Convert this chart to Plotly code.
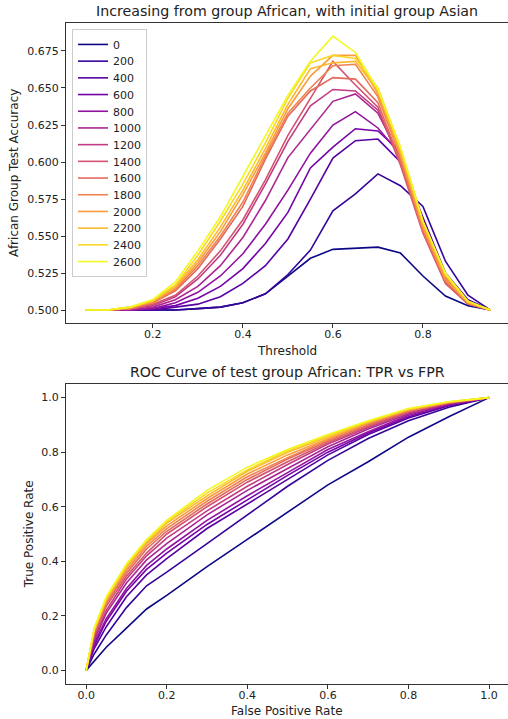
"""Accuracy-vs-threshold and ROC curves for group African, one line per step."""
import plotly.graph_objects as go
from plotly.colors import sample_colorscale

# ---- data -----------------------------------------------------------------
steps = [0, 200, 400, 600, 800, 1000, 1200, 1400, 1600, 1800, 2000, 2200, 2400, 2600]

thresholds = [0.05, 0.10, 0.15, 0.20, 0.25, 0.30, 0.35, 0.40, 0.45, 0.50,
              0.55, 0.60, 0.65, 0.70, 0.75, 0.80, 0.85, 0.90, 0.95]

acc_0 = [0.500, 0.500, 0.500, 0.500, 0.500, 0.501, 0.502, 0.505, 0.511, 0.523,
         0.535, 0.541, 0.542, 0.5425, 0.5385, 0.523, 0.5095, 0.503, 0.500]
acc_200 = [0.500, 0.500, 0.500, 0.500, 0.500, 0.501, 0.502, 0.505, 0.511, 0.524,
           0.5405, 0.567, 0.5785, 0.592, 0.584, 0.570, 0.533, 0.510, 0.500]
acc_400 = [0.500, 0.500, 0.500, 0.500, 0.502, 0.504, 0.509, 0.518, 0.530, 0.548,
           0.575, 0.6027, 0.6144, 0.6155, 0.600, 0.562, 0.525, 0.507, 0.500]
acc_600 = [0.500, 0.500, 0.500, 0.501, 0.503, 0.508, 0.516, 0.528, 0.545, 0.566,
           0.596, 0.610, 0.6225, 0.621, 0.607, 0.561, 0.523, 0.506, 0.500]
acc_800 = [0.500, 0.500, 0.500, 0.501, 0.505, 0.512, 0.523, 0.538, 0.558, 0.581,
           0.606, 0.625, 0.634, 0.623, 0.605, 0.559, 0.522, 0.505, 0.500]
acc_1000 = [0.500, 0.500, 0.500, 0.502, 0.507, 0.516, 0.530, 0.549, 0.574, 0.603,
            0.622, 0.641, 0.646, 0.633, 0.603, 0.557, 0.520, 0.505, 0.500]
acc_1200 = [0.500, 0.500, 0.501, 0.503, 0.509, 0.521, 0.537, 0.558, 0.585, 0.614,
            0.638, 0.649, 0.648, 0.635, 0.600, 0.554, 0.519, 0.504, 0.500]
acc_1400 = [0.500, 0.500, 0.501, 0.504, 0.510, 0.523, 0.540, 0.561, 0.588, 0.618,
            0.643, 0.668, 0.652, 0.637, 0.598, 0.552, 0.518, 0.504, 0.500]
acc_1600 = [0.500, 0.500, 0.501, 0.505, 0.513, 0.528, 0.548, 0.570, 0.602, 0.631,
            0.648, 0.657, 0.656, 0.640, 0.600, 0.553, 0.519, 0.504, 0.500]
acc_1800 = [0.500, 0.500, 0.501, 0.505, 0.514, 0.530, 0.550, 0.573, 0.604, 0.633,
            0.650, 0.665, 0.666, 0.644, 0.603, 0.555, 0.520, 0.505, 0.500]
acc_2000 = [0.500, 0.500, 0.502, 0.506, 0.515, 0.532, 0.553, 0.578, 0.606, 0.636,
            0.658, 0.672, 0.672, 0.646, 0.605, 0.556, 0.521, 0.505, 0.500]
acc_2200 = [0.500, 0.500, 0.502, 0.506, 0.516, 0.534, 0.556, 0.581, 0.609, 0.639,
            0.663, 0.667, 0.668, 0.648, 0.607, 0.558, 0.523, 0.505, 0.500]
acc_2400 = [0.500, 0.500, 0.502, 0.507, 0.517, 0.537, 0.560, 0.585, 0.613, 0.643,
            0.667, 0.672, 0.670, 0.650, 0.610, 0.560, 0.524, 0.506, 0.500]
acc_2600 = [0.500, 0.500, 0.502, 0.507, 0.519, 0.540, 0.563, 0.590, 0.617, 0.645,
            0.668, 0.685, 0.674, 0.649, 0.610, 0.560, 0.525, 0.506, 0.500]

fpr = [0.0, 0.02, 0.05, 0.10, 0.15, 0.20, 0.30, 0.40, 0.50, 0.60, 0.70, 0.80, 0.90, 1.0]

tpr_0 = [0.0, 0.035, 0.085, 0.155, 0.225, 0.275, 0.38, 0.48, 0.58, 0.68, 0.765, 0.855, 0.93, 1.0]
tpr_200 = [0.0, 0.06, 0.13, 0.23, 0.31, 0.36, 0.465, 0.57, 0.675, 0.77, 0.85, 0.915, 0.965, 1.0]
tpr_400 = [0.0, 0.08, 0.16, 0.27, 0.35, 0.41, 0.52, 0.61, 0.70, 0.79, 0.865, 0.925, 0.97, 1.0]
tpr_600 = [0.0, 0.09, 0.18, 0.29, 0.37, 0.43, 0.535, 0.625, 0.715, 0.80, 0.87, 0.93, 0.972, 1.0]
tpr_800 = [0.0, 0.10, 0.19, 0.30, 0.385, 0.445, 0.55, 0.64, 0.725, 0.81, 0.875, 0.935, 0.975, 1.0]
tpr_1000 = [0.0, 0.11, 0.21, 0.32, 0.405, 0.465, 0.57, 0.66, 0.74, 0.82, 0.885, 0.94, 0.977, 1.0]
tpr_1200 = [0.0, 0.12, 0.22, 0.335, 0.42, 0.485, 0.585, 0.675, 0.755, 0.83, 0.89, 0.945, 0.979, 1.0]
tpr_1400 = [0.0, 0.13, 0.235, 0.345, 0.43, 0.50, 0.60, 0.69, 0.765, 0.835, 0.895, 0.948, 0.98, 1.0]
tpr_1600 = [0.0, 0.135, 0.245, 0.355, 0.445, 0.51, 0.61, 0.70, 0.775, 0.84, 0.90, 0.95, 0.981, 1.0]
tpr_1800 = [0.0, 0.14, 0.25, 0.365, 0.455, 0.52, 0.62, 0.71, 0.78, 0.845, 0.905, 0.952, 0.982, 1.0]
tpr_2000 = [0.0, 0.145, 0.255, 0.375, 0.465, 0.53, 0.63, 0.72, 0.79, 0.85, 0.908, 0.955, 0.983, 1.0]
tpr_2200 = [0.0, 0.15, 0.26, 0.38, 0.47, 0.54, 0.64, 0.73, 0.80, 0.855, 0.91, 0.957, 0.984, 1.0]
tpr_2400 = [0.0, 0.15, 0.265, 0.385, 0.475, 0.545, 0.65, 0.735, 0.805, 0.86, 0.912, 0.958, 0.985, 1.0]
tpr_2600 = [0.0, 0.155, 0.27, 0.39, 0.48, 0.55, 0.66, 0.745, 0.81, 0.865, 0.915, 0.96, 0.985, 1.0]

acc_series = [acc_0, acc_200, acc_400, acc_600, acc_800, acc_1000, acc_1200,
              acc_1400, acc_1600, acc_1800, acc_2000, acc_2200, acc_2400, acc_2600]
tpr_series = [tpr_0, tpr_200, tpr_400, tpr_600, tpr_800, tpr_1000, tpr_1200,
              tpr_1400, tpr_1600, tpr_1800, tpr_2000, tpr_2200, tpr_2400, tpr_2600]

acc_ticks = [0.500, 0.525, 0.550, 0.575, 0.600, 0.625, 0.650, 0.675]
thr_ticks = [0.2, 0.4, 0.6, 0.8]
roc_ticks = [0.0, 0.2, 0.4, 0.6, 0.8, 1.0]

# ---- style ----------------------------------------------------------------
FONT = "DejaVu Sans"
INK = "#222222"
SPINE = "#333333"
colors = sample_colorscale("Plasma", [i / (len(steps) - 1) for i in range(len(steps))])

fig = go.Figure()

for step, acc, col in zip(steps, acc_series, colors):
    fig.add_trace(go.Scatter(
        x=thresholds, y=acc, name=str(step), mode="lines",
        line=dict(color=col, width=1.6),
        xaxis="x", yaxis="y",
    ))

for step, tpr, col in zip(steps, tpr_series, colors):
    fig.add_trace(go.Scatter(
        x=fpr, y=tpr, name=str(step), mode="lines",
        line=dict(color=col, width=1.6),
        xaxis="x2", yaxis="y2", showlegend=False,
    ))

axis_common = dict(
    showgrid=False, zeroline=False, showline=True, linecolor=SPINE, linewidth=1,
    ticks="outside", ticklen=4, tickwidth=1, tickcolor=SPINE,
    tickfont=dict(size=11, color=INK, family=FONT),
)

fig.update_layout(
    width=508, height=719,
    margin=dict(l=66, r=0, t=23, b=35),
    plot_bgcolor="white", paper_bgcolor="white",
    font=dict(family=FONT, color=INK, size=11),
    xaxis=dict(axis_common, domain=[0, 1], range=[0.007, 0.989], anchor="y",
               tickvals=thr_ticks, tickformat=".1f", mirror=True, ticklabelstandoff=-3),
    yaxis=dict(axis_common, domain=[0.546, 1], range=[0.4912, 0.6939], anchor="x",
               tickvals=acc_ticks, tickformat=".3f"),
    xaxis2=dict(axis_common, domain=[0, 1], range=[-0.05, 1.047], anchor="y2",
                tickvals=roc_ticks, tickformat=".1f", mirror=True, ticklabelstandoff=-3),
    yaxis2=dict(axis_common, domain=[0, 0.4539], range=[-0.05, 1.05], anchor="x2",
                tickvals=roc_ticks, tickformat=".1f"),
    legend=dict(
        x=0.0136, y=0.991, xanchor="left", yanchor="top",
        bgcolor="rgba(255,255,255,0.8)", bordercolor="#cccccc", borderwidth=1,
        font=dict(size=11, color=INK, family=FONT),
        itemwidth=30, tracegroupgap=0,
    ),
    showlegend=True,
)

# titles and axis labels
notes = [
    dict(text="Increasing from group African, with initial group Asian",
         x=0.5, y=1.0, yanchor="bottom", yshift=2, font=dict(size=14.2)),
    dict(text="Threshold", x=0.5, y=0.546, yanchor="top", yshift=-19, font=dict(size=12)),
    dict(text="African Group Test Accuracy", x=-0.118, y=0.773, textangle=-90,
         xanchor="center", yanchor="middle", font=dict(size=12)),
    dict(text="ROC Curve of test group African: TPR vs FPR",
         x=0.5, y=0.4539, yanchor="bottom", yshift=2, font=dict(size=14.2)),
    dict(text="False Positive Rate", x=0.5, y=0.0, yanchor="top", yshift=-18,
         font=dict(size=12)),
    dict(text="True Positive Rate", x=-0.083, y=0.227, textangle=-90,
         xanchor="center", yanchor="middle", font=dict(size=12)),
]
for n in notes:
    n.setdefault("xanchor", "center")
    fig.add_annotation(xref="paper", yref="paper", showarrow=False,
                       font=dict(n.pop("font"), family=FONT, color=INK), **n)

# plotly keeps legend rows >= 19px apart; tighten them to the ~16.7px of the
# original, and drop the page's default 8px body margin
post = """
document.body.style.margin = '0';
try {
  var gd = document.getElementById('{plot_id}');
  var rows = gd.querySelectorAll('.legend .traces');
  var step = 16.7, first = null, old = null;
  rows.forEach(function (t, i) {
    var m = /translate\\(([-\\d.]+)[ ,]+([-\\d.]+)\\)/.exec(t.getAttribute('transform'));
    if (!m) return;
    var y = parseFloat(m[2]);
    if (first === null) first = y;
    if (i === 1) old = y - first;
    t.setAttribute('transform', 'translate(' + m[1] + ',' + (first + i * step) + ')');
  });
  var bg = gd.querySelector('.legend rect.bg');
  if (bg && old) {
    var h = parseFloat(bg.getAttribute('height'));
    bg.setAttribute('height', h - (rows.length - 1) * (old - step));
  }
} catch (e) {}
"""
fig.write_html("out.html", config={"displayModeBar": False}, post_script=post)
